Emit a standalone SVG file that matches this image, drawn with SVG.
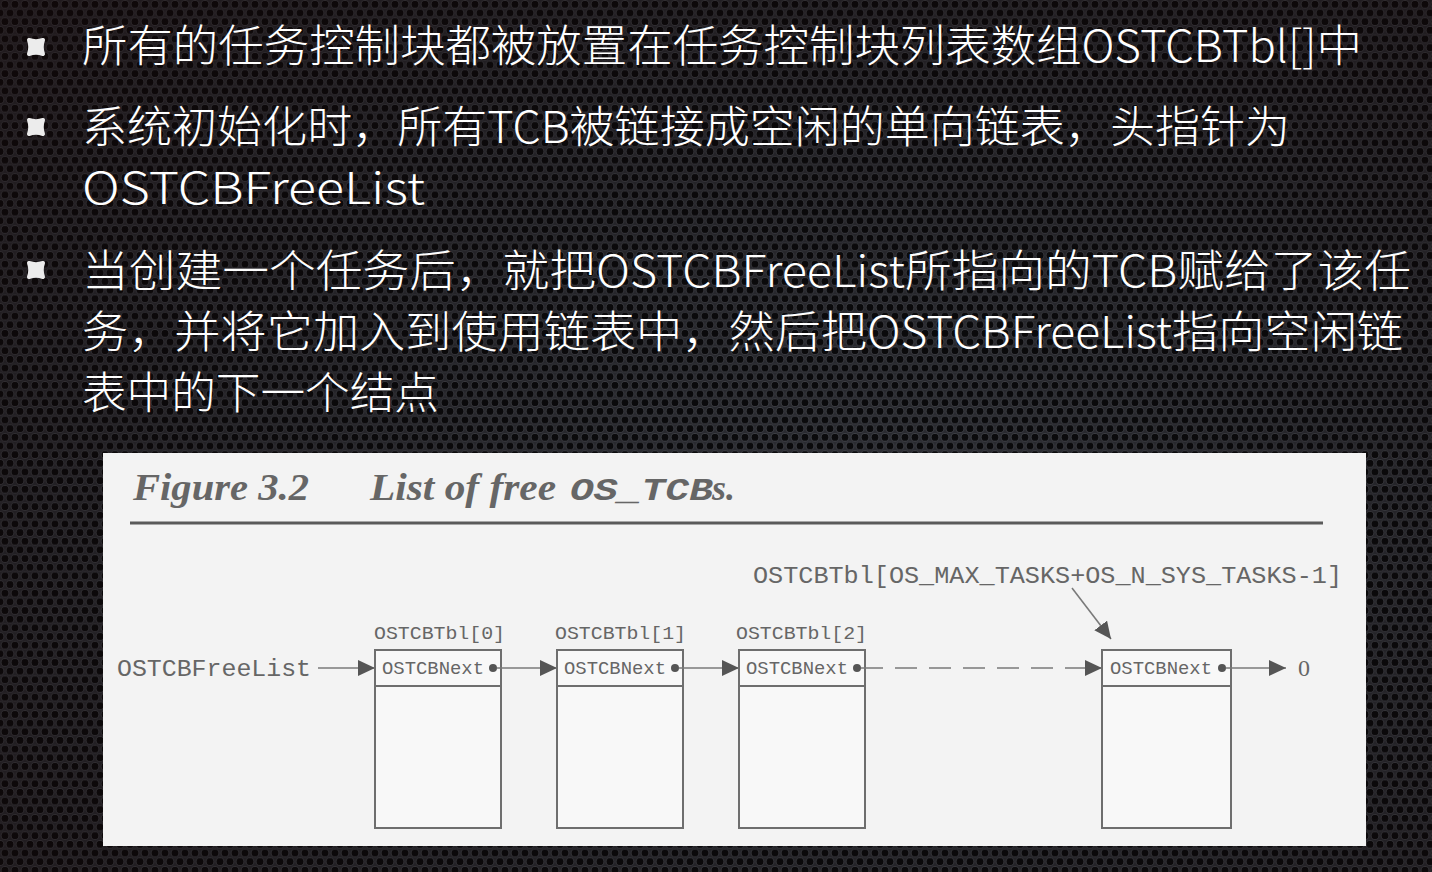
<svg xmlns="http://www.w3.org/2000/svg" width="1432" height="872" viewBox="0 0 1432 872">
  <defs>
    <pattern id="mesh" width="10" height="17.32" patternUnits="userSpaceOnUse">
      <rect width="10" height="17.32" fill="#2c2d33"/>
      <circle cx="5" cy="4.33" r="3.9" fill="#0b0b0d" stroke="#4a4c53" stroke-width="0.8"/>
      <circle cx="0" cy="12.99" r="3.9" fill="#0b0b0d" stroke="#4a4c53" stroke-width="0.8"/>
      <circle cx="10" cy="12.99" r="3.9" fill="#0b0b0d" stroke="#4a4c53" stroke-width="0.8"/>
    </pattern>
    <radialGradient id="vign" cx="0.6" cy="0.6" r="0.85">
      <stop offset="0" stop-color="#000" stop-opacity="0"/>
      <stop offset="1" stop-color="#150606" stop-opacity="0.5"/>
    </radialGradient>
    <marker id="tri" markerUnits="userSpaceOnUse" markerWidth="18" markerHeight="18" refX="17" refY="8" orient="auto">
      <path d="M0,0 L17,8 L0,16 Z" fill="#555"/>
    </marker>
    <style>
      .bul { fill: #ececec; stroke: #ececec; stroke-width: 4; stroke-linejoin: round; }
      .txt { font-family: "Noto Sans CJK SC", "Noto Sans", sans-serif; font-weight: 300; font-size: 44px; fill: #ffffff; }
      .mono { font-family: "Liberation Mono", "DejaVu Sans Mono", monospace; fill: #666; }
      .box { fill: #f8f8f8; stroke: #6e6e6e; stroke-width: 2; }
      .link { stroke: #7a7a7a; stroke-width: 1.6; fill: none; }
      .dot { fill: #555; }
    </style>
  </defs>

  <!-- background -->
  <rect width="1432" height="872" fill="url(#mesh)"/>
  <rect width="1432" height="872" fill="url(#vign)"/>

  <!-- bullets -->
  <g id="bullets">
    <path class="bul" d="M29,40 Q36,42.5 43,40 Q40.5,47 43,54 Q36,51.5 29,54 Q31.5,47 29,40 Z"/>
    <path class="bul" d="M29,120 Q36,122.5 43,120 Q40.5,127 43,134 Q36,131.5 29,134 Q31.5,127 29,120 Z"/>
    <path class="bul" d="M29,263 Q36,265.5 43,263 Q40.5,270 43,277 Q36,274.5 29,277 Q31.5,270 29,263 Z"/>
  </g>

  <!-- text lines -->
  <g id="bullet-text">
    <text class="txt" x="82" y="62" textLength="1280" lengthAdjust="spacingAndGlyphs">所有的任务控制块都被放置在任务控制块列表数组OSTCBTbl[]中</text>
    <text class="txt" x="82" y="143" textLength="1208" lengthAdjust="spacingAndGlyphs">系统初始化时，所有TCB被链接成空闲的单向链表，头指针为</text>
    <text class="txt" x="82" y="204" textLength="343" lengthAdjust="spacingAndGlyphs">OSTCBFreeList</text>
    <text class="txt" x="82" y="287" textLength="1329" lengthAdjust="spacingAndGlyphs">当创建一个任务后，就把OSTCBFreeList所指向的TCB赋给了该任</text>
    <text class="txt" x="82" y="348" textLength="1321" lengthAdjust="spacingAndGlyphs">务，并将它加入到使用链表中，然后把OSTCBFreeList指向空闲链</text>
    <text class="txt" x="82" y="409" textLength="357" lengthAdjust="spacingAndGlyphs">表中的下一个结点</text>
  </g>

  <!-- figure panel -->
  <g id="figure">
    <rect x="103" y="453" width="1263" height="393" fill="#f3f3f3"/>
    <text x="133" y="500" font-family="Liberation Serif, serif" font-style="italic" font-weight="bold" font-size="38" fill="#666" textLength="176" lengthAdjust="spacingAndGlyphs">Figure 3.2</text>
    <text x="370" y="500" font-family="Liberation Serif, serif" font-style="italic" font-weight="bold" font-size="38" fill="#666" textLength="186" lengthAdjust="spacingAndGlyphs">List of free</text>
    <text x="570" y="500" font-family="Liberation Mono, monospace" font-style="italic" font-weight="bold" font-size="32" fill="#666" textLength="143" lengthAdjust="spacingAndGlyphs">OS_TCB</text>
    <text x="712" y="500" font-family="Liberation Serif, serif" font-style="italic" font-weight="bold" font-size="36" fill="#666">s.</text>
    <line x1="130" y1="523" x2="1323" y2="523" stroke="#5a5a5a" stroke-width="3"/>

    <text class="mono" x="753" y="583" font-size="24" textLength="589" lengthAdjust="spacingAndGlyphs">OSTCBTbl[OS_MAX_TASKS+OS_N_SYS_TASKS-1]</text>
    <text class="mono" x="117" y="676" font-size="24" textLength="194" lengthAdjust="spacingAndGlyphs">OSTCBFreeList</text>
    <text x="1298" y="676" font-family="Liberation Serif, serif" font-size="24" fill="#666">0</text>
  </g>

  <!-- nodes -->
  <g id="node-tbl0">
    <text class="mono" x="374" y="639" font-size="19" textLength="131" lengthAdjust="spacingAndGlyphs">OSTCBTbl[0]</text>
    <rect class="box" x="375" y="650" width="126" height="178"/>
    <line x1="375" y1="686" x2="501" y2="686" stroke="#6e6e6e" stroke-width="2"/>
    <text class="mono" x="382" y="674" font-size="18" textLength="102" lengthAdjust="spacingAndGlyphs">OSTCBNext</text>
    <circle class="dot" cx="493" cy="668" r="4"/>
  </g>
  <g id="node-tbl1">
    <text class="mono" x="555" y="639" font-size="19" textLength="131" lengthAdjust="spacingAndGlyphs">OSTCBTbl[1]</text>
    <rect class="box" x="557" y="650" width="126" height="178"/>
    <line x1="557" y1="686" x2="683" y2="686" stroke="#6e6e6e" stroke-width="2"/>
    <text class="mono" x="564" y="674" font-size="18" textLength="102" lengthAdjust="spacingAndGlyphs">OSTCBNext</text>
    <circle class="dot" cx="675" cy="668" r="4"/>
  </g>
  <g id="node-tbl2">
    <text class="mono" x="736" y="639" font-size="19" textLength="131" lengthAdjust="spacingAndGlyphs">OSTCBTbl[2]</text>
    <rect class="box" x="739" y="650" width="126" height="178"/>
    <line x1="739" y1="686" x2="865" y2="686" stroke="#6e6e6e" stroke-width="2"/>
    <text class="mono" x="746" y="674" font-size="18" textLength="102" lengthAdjust="spacingAndGlyphs">OSTCBNext</text>
    <circle class="dot" cx="857" cy="668" r="4"/>
  </g>
  <g id="node-tbllast">
    <rect class="box" x="1102" y="650" width="129" height="178"/>
    <line x1="1102" y1="686" x2="1231" y2="686" stroke="#6e6e6e" stroke-width="2"/>
    <text class="mono" x="1110" y="674" font-size="18" textLength="102" lengthAdjust="spacingAndGlyphs">OSTCBNext</text>
    <circle class="dot" cx="1222" cy="668" r="4"/>
  </g>

  <!-- connectors -->
  <g id="connectors">
    <line class="link" x1="318" y1="668" x2="375" y2="668" marker-end="url(#tri)"/>
    <line class="link" x1="497" y1="668" x2="557" y2="668" marker-end="url(#tri)"/>
    <line class="link" x1="679" y1="668" x2="739" y2="668" marker-end="url(#tri)"/>
    <line class="link" x1="861" y1="668" x2="1102" y2="668" stroke-dasharray="22,12" marker-end="url(#tri)"/>
    <line class="link" x1="1226" y1="668" x2="1286" y2="668" marker-end="url(#tri)"/>
    <line class="link" x1="1072" y1="588" x2="1111" y2="639" marker-end="url(#tri)"/>
  </g>
</svg>
